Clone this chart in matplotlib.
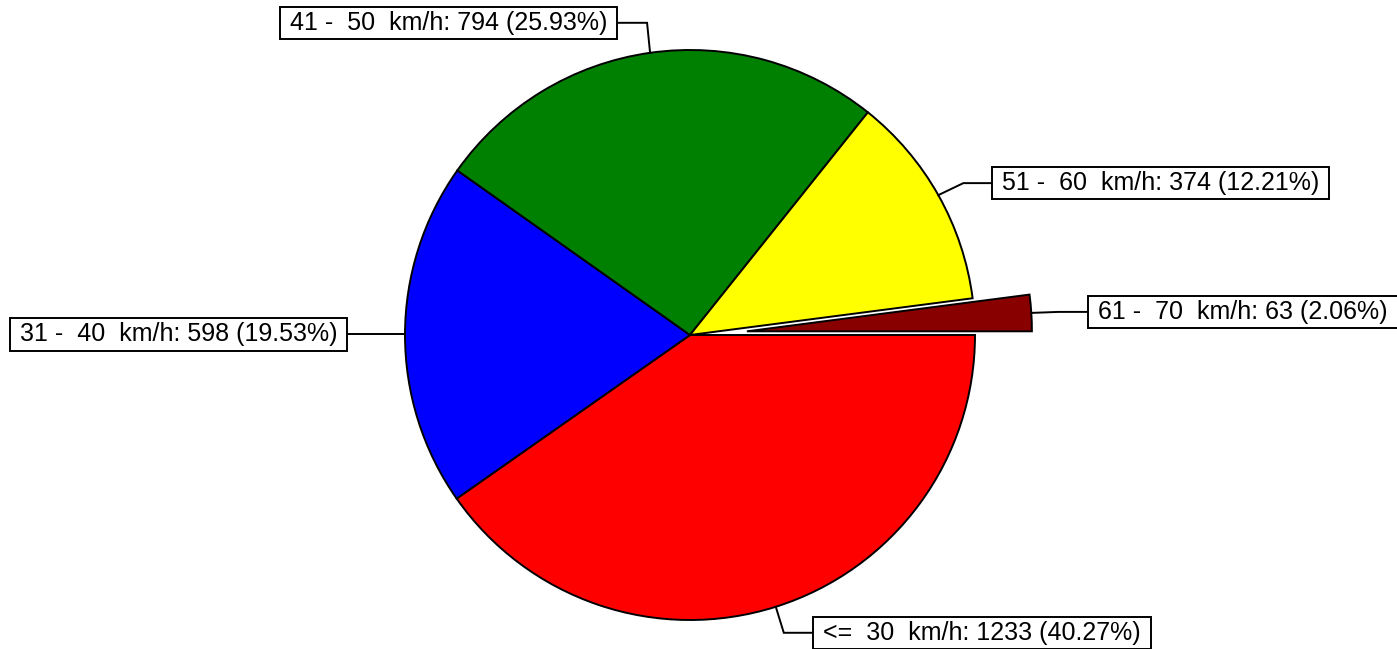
import matplotlib
matplotlib.use('Agg')
import matplotlib.pyplot as plt
import numpy as np
from matplotlib.path import Path

plt.rcParams['font.family'] = ['Liberation Sans', 'DejaVu Sans']

# speed classes and counts
categories = ['<=  30  km/h', '31 -  40  km/h', '41 -  50  km/h', '51 -  60  km/h', '61 -  70  km/h']
counts = [1233, 598, 794, 374, 63]
colors = ['#FF0000', '#0000FF', '#008000', '#FFFF00', '#880000']
explode = [0, 0, 0, 0, 0.2]

# label layout in pixels: (box x, box y, side, elbow dx, elbow dy)
label_pos = [(813, 633, 'left', 8, 26),
             (347, 333, 'right', -30, 0),
             (617, 23, 'right', -3, -30),
             (992, 181, 'left', 25, -12),
             (1088, 311, 'left', 27, -1)]

W, H = 1397, 649
cx, cy, R = 690, 335, 285

def px2d(px, py):
    return (px - cx) / R, (cy - py) / R

def d2px(x, y):
    return cx + x * R, cy - y * R

def labelbox(x0, y0, width, height, mutation_size):
    padx = 0.4 * mutation_size
    pady = 0.17 * mutation_size
    x0, y0 = x0 - padx, y0 - pady
    x1, y1 = x0 + width + 2 * padx, y0 + height + 2 * pady
    return Path([(x0, y0), (x1, y0), (x1, y1), (x0, y1), (x0, y0)], closed=True)

fig = plt.figure(figsize=(W / 100, H / 100), dpi=100)
ax = fig.add_axes([0, 0, 1, 1])

wedges, _ = ax.pie(counts, colors=colors, explode=explode, startangle=0,
                   counterclock=False, radius=1,
                   wedgeprops=dict(edgecolor='black', linewidth=1.4))

ax.set_aspect('auto')
ax.set_xlim(-cx / R, (W - cx) / R)
ax.set_ylim((cy - H) / R, cy / R)
ax.axis('off')

total = sum(counts)
for w, cat, v, (bx, by, side, edx, edy) in zip(wedges, categories, counts, label_pos):
    ang = np.deg2rad(0.5 * (w.theta1 + w.theta2))
    ax_, ay_ = w.center[0] + w.r * np.cos(ang), w.center[1] + w.r * np.sin(ang)
    apx, apy = d2px(ax_, ay_)
    ex, ey = apx + edx, apy + edy
    pts = [px2d(apx, apy), px2d(ex, ey), px2d(bx, ey)]
    xs, ys = zip(*pts)
    ax.plot(xs, ys, color='black', linewidth=1.4, solid_joinstyle='miter')
    pct = 100.0 * v / total
    txt = f'{cat}: {v} ({pct:.2f}%)'
    tx = bx + 10 if side == 'left' else bx - 10
    tx, ty = px2d(tx, ey)
    ax.text(tx, ty, txt, ha=side, va='center', fontsize=18,
            bbox=dict(boxstyle=labelbox, facecolor='white', edgecolor='black', linewidth=1.4))

fig.savefig('out.png', dpi=100)
